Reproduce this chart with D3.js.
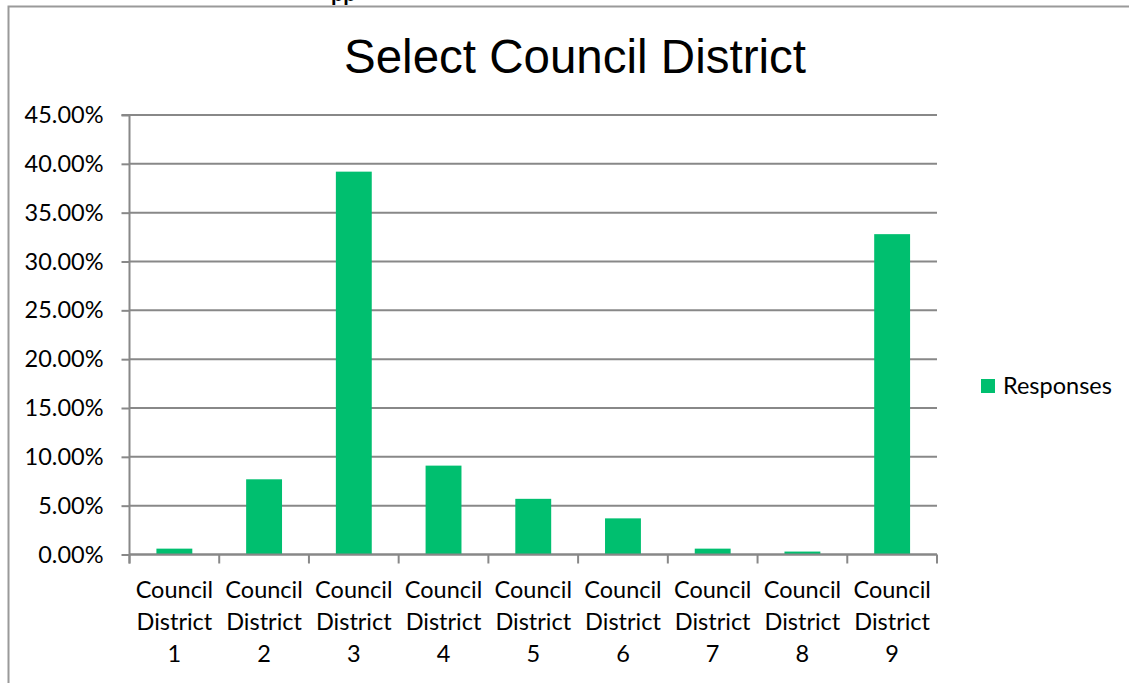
<!DOCTYPE html>
<html>
<head>
<meta charset="utf-8">
<script src="https://cdn.jsdelivr.net/npm/d3@7"></script>
<style>
  html, body { margin: 0; padding: 0; background: #fff; }
  svg { display: block; }
</style>
</head>
<body>
<svg id="chart" width="1129" height="683"></svg>
<script>
// ---- Data ----
const categories = ["Council District 1", "Council District 2", "Council District 3",
  "Council District 4", "Council District 5", "Council District 6",
  "Council District 7", "Council District 8", "Council District 9"];
const responses = [0.006, 0.077, 0.392, 0.091, 0.057, 0.037, 0.006, 0.003, 0.328];
const yTicks = [0, 0.05, 0.10, 0.15, 0.20, 0.25, 0.30, 0.35, 0.40, 0.45];
const seriesName = "Responses";
const chartTitle = "Select Council District";

// ---- Layout ----
const svg = d3.select("#chart");
const W = 1129, H = 683;
const plot = { left: 129.5, right: 937, top: 115, bottom: 554.5 };
const gridColor = "#888888";
const barColor = "#00bf6f";
const labelFont = "Lato, 'Open Sans', sans-serif";
const labelSize = 23.5;

// chart border (partially cut off page)
svg.append("path")
  .attr("d", `M8.5,${H} L8.5,6.5 L${W},6.5`)
  .attr("fill", "none").attr("stroke", "#9a9a9a").attr("stroke-width", 2);

// cut-off heading text above the chart
svg.append("text")
  .attr("x", 331).attr("y", 1)
  .attr("font-family", "'Liberation Sans', Arial, sans-serif")
  .attr("font-weight", "bold").attr("font-size", 20)
  .attr("fill", "#000").text("pp");

const x = d3.scaleBand().domain(categories).range([plot.left, plot.right])
  .paddingInner(0.6).paddingOuter(0.3);
const xTickScale = d3.scaleBand().domain(categories).range([plot.left, plot.right]);
const y = d3.scaleLinear().domain([0, 0.45]).range([plot.bottom, plot.top]);

// gridlines
svg.append("g").selectAll("line").data(yTicks).join("line")
  .attr("x1", plot.left).attr("x2", plot.right)
  .attr("y1", d => y(d)).attr("y2", d => y(d))
  .attr("stroke", gridColor).attr("stroke-width", 2);

// y axis
const yAxis = d3.axisLeft(y).tickValues(yTicks).tickSize(8).tickPadding(18)
  .tickFormat(d => (d * 100).toFixed(2) + "%");
const gy = svg.append("g").attr("transform", `translate(${plot.left},0)`).call(yAxis);
gy.select(".domain").attr("stroke", gridColor).attr("stroke-width", 2)
  .attr("d", `M-8,${plot.top}H0V${plot.bottom + 9}`);
gy.selectAll(".tick line").attr("stroke", gridColor).attr("stroke-width", 2);
gy.selectAll(".tick text").attr("font-family", labelFont).attr("font-size", labelSize)
  .attr("fill", "#000");

// bars
svg.append("g").selectAll("rect").data(responses).join("rect")
  .attr("x", (d, i) => x(categories[i]))
  .attr("width", x.bandwidth())
  .attr("y", d => y(d))
  .attr("height", d => y(0) - y(d))
  .attr("fill", barColor);

// x axis (ticks at category boundaries)
const boundaries = categories.map(c => xTickScale(c)).concat([plot.right]);
const gx = svg.append("g");
gx.append("line").attr("x1", plot.left).attr("x2", plot.right)
  .attr("y1", plot.bottom).attr("y2", plot.bottom)
  .attr("stroke", gridColor).attr("stroke-width", 2);
gx.selectAll("line.tick").data(boundaries).join("line").attr("class", "tick")
  .attr("x1", d => d).attr("x2", d => d)
  .attr("y1", plot.bottom).attr("y2", plot.bottom + 9)
  .attr("stroke", gridColor).attr("stroke-width", 2);

// x labels, wrapped on three lines
const lines = c => { const p = c.split(" "); return [p[0], p[1], p[2]]; };
const lbl = svg.append("g").selectAll("text").data(categories).join("text")
  .attr("text-anchor", "middle")
  .attr("font-family", labelFont).attr("font-size", labelSize).attr("fill", "#000");
lbl.each(function (c) {
  const t = d3.select(this);
  const cx = xTickScale(c) + xTickScale.bandwidth() / 2;
  lines(c).forEach((s, k) => {
    t.append("tspan").attr("x", cx).attr("y", 598 + k * 32).text(s);
  });
});

// title
svg.append("text")
  .attr("x", 575).attr("y", 73).attr("text-anchor", "middle")
  .attr("font-family", "'Liberation Sans', Arial, sans-serif")
  .attr("font-size", 47.5).attr("fill", "#000").text(chartTitle);

// legend
const lg = svg.append("g");
lg.append("rect").attr("x", 981).attr("y", 379).attr("width", 14).attr("height", 14)
  .attr("fill", barColor);
lg.append("text").attr("x", 1003).attr("y", 393.5)
  .attr("font-family", labelFont).attr("font-size", labelSize).attr("fill", "#000")
  .text(seriesName);
</script>
</body>
</html>
